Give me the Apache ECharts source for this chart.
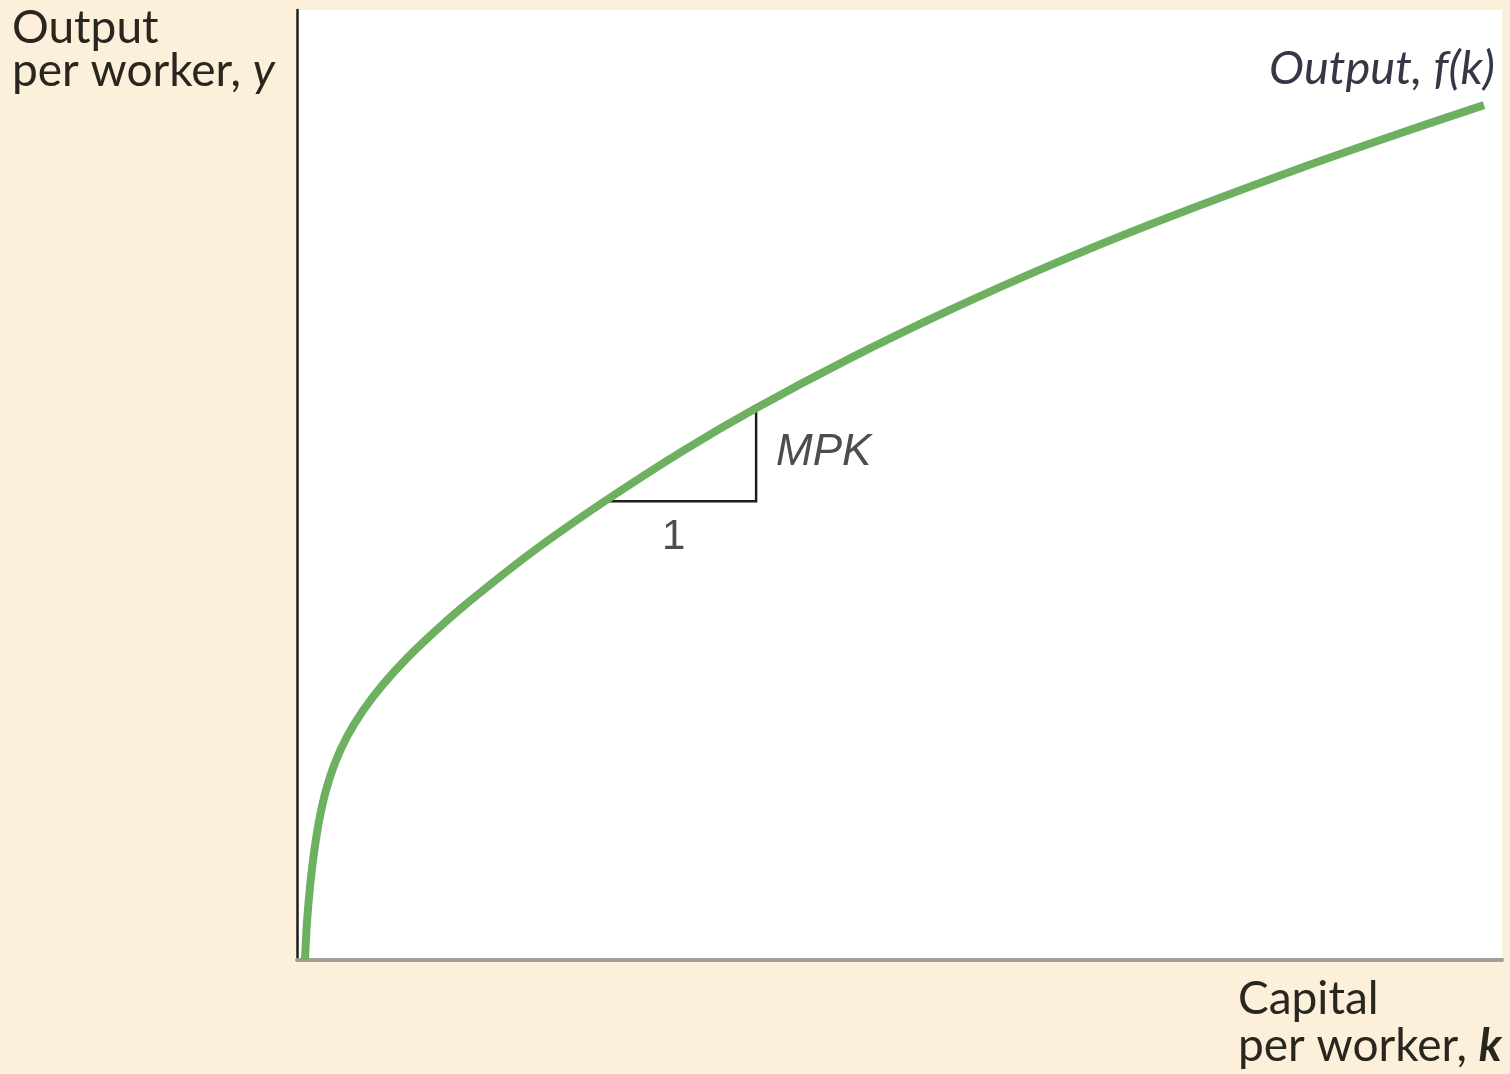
<!DOCTYPE html>
<html>
<head>
<meta charset="utf-8">
<script src="https://cdn.jsdelivr.net/npm/echarts@6/dist/echarts.min.js"></script>
<style>
html,body{margin:0;padding:0;background:#fdf0da;}
#chart{width:1510px;height:1074px;}
</style>
</head>
<body>
<div id="chart"></div>
<script>
// Capital per worker (k) and output per worker (y) (0-100 units)
var kValues = [0.66, 0.83, 1.08, 1.41, 1.83, 2.41, 3.15, 4.15, 5.48, 7.14, 9.13, 11.62, 14.11, 19.34, 25.56, 32.03, 38.01, 45.89, 54.19, 62.49, 70.79, 83.24, 91.54, 98.51];
var yValues = [0, 4.0, 7.69, 11.27, 14.64, 17.88, 20.73, 23.51, 26.26, 29.02, 31.78, 34.79, 37.54, 42.78, 48.31, 53.6, 58.03, 63.33, 68.43, 73.12, 77.43, 83.35, 87.03, 89.99];
// Slope triangle (run = 1, rise = MPK)
var triK = [25.6, 38.1, 38.1];
var triY = [48.3, 48.3, 58.0];
var labels = {
  yTitle1: 'Output', yTitle2: 'per worker, ', yVar: 'y',
  xTitle1: 'Capital', xTitle2: 'per worker, ', xVar: 'k',
  curve: 'Output, f(k)', rise: 'MPK', run: '1'
};

var curveData = kValues.map(function (k, i) { return [k, yValues[i]]; });
var triData = triK.map(function (k, i) { return [k, triY[i]]; });

var FONT = 'Lato';
var TXT = '#29251f';

var chart = echarts.init(document.getElementById('chart'), null, {renderer: 'canvas'});
chart.setOption({
  backgroundColor: '#fdf0da',
  animation: false,
  grid: {left: 297, right: 8, top: 10, bottom: 114, show: true, backgroundColor: '#ffffff', borderWidth: 0},
  xAxis: {
    type: 'value', min: 0, max: 100,
    axisLine: {show: true, lineStyle: {color: '#a19e96', width: 4}},
    axisTick: {show: false}, axisLabel: {show: false}, splitLine: {show: false}
  },
  yAxis: {
    type: 'value', min: 0, max: 100,
    axisLine: {show: true, lineStyle: {color: '#1e1c1a', width: 2.5}},
    axisTick: {show: false}, axisLabel: {show: false}, splitLine: {show: false}
  },
  series: [
    {
      type: 'line', data: triData, symbol: 'none', z: 2,
      lineStyle: {color: '#1e1e1e', width: 2.5, cap: 'butt', join: 'miter'}
    },
    {
      type: 'line', data: curveData, symbol: 'none', smooth: 0.35, z: 3,
      lineStyle: {color: '#6cb060', width: 8, cap: 'butt', join: 'round'}
    }
  ],
  graphic: [
    {type: 'text', left: 12, top: 5, style: {text: labels.yTitle1, font: '46px ' + FONT, fill: TXT}},
    {type: 'text', left: 12, top: 48, style: {
      text: '{a|' + labels.yTitle2 + '}{b|' + labels.yVar + '}',
      rich: {a: {font: '46px ' + FONT, fill: TXT}, b: {font: 'italic 46px ' + FONT, fill: TXT}}
    }},
    {type: 'text', left: 1238, top: 976, style: {text: labels.xTitle1, font: '46px ' + FONT, fill: TXT}},
    {type: 'text', left: 1238, top: 1023, style: {
      text: '{a|' + labels.xTitle2 + '}{b|' + labels.xVar + '}',
      rich: {a: {font: '46px ' + FONT, fill: TXT}, b: {font: 'italic bold 46px ' + FONT, fill: TXT}}
    }},
    {type: 'text', right: 15, top: 45, style: {text: labels.curve, font: 'italic 47px ' + FONT, fill: '#363646'}},
    {type: 'text', left: 776, top: 431, style: {text: labels.rise, font: 'italic 44px "Liberation Sans"', fill: '#4d4d4d'}},
    {type: 'text', left: 662, top: 516, style: {text: labels.run, font: '42px "Liberation Sans"', fill: '#4d4d4d'}}
  ]
});
</script>
</body>
</html>
